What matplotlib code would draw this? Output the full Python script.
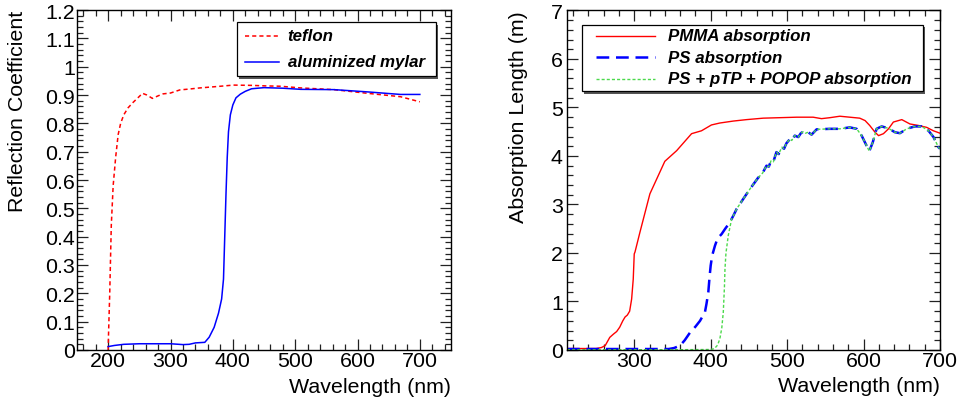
import matplotlib
matplotlib.use("Agg")
import matplotlib.pyplot as plt
from matplotlib.ticker import MultipleLocator, FuncFormatter
from matplotlib.patches import Rectangle
from matplotlib.lines import Line2D

plt.rcParams['font.family'] = ['Liberation Sans', 'DejaVu Sans']

# ---------------- data: left panel (reflection) ----------------
teflon_nm = [200, 200.5, 202.5, 205, 208, 212, 216, 220, 225, 232, 240, 250, 255, 262,
             271, 280, 288, 300, 315, 330, 347, 375, 401, 430, 455, 476, 509, 562,
             616, 669, 700]
teflon_r = [0.0, 0.05, 0.2, 0.44, 0.58, 0.68, 0.76, 0.80, 0.83, 0.855, 0.874, 0.895,
            0.906, 0.900, 0.888, 0.897, 0.904, 0.907, 0.918, 0.921, 0.925, 0.930, 0.935,
            0.934, 0.932, 0.931, 0.925, 0.919, 0.906, 0.894, 0.876]

mylar_nm = [200, 210, 225, 250, 300, 320, 330, 340, 355, 362, 370, 377, 382, 385, 387,
            389, 391, 393, 396, 400, 405, 412, 420, 430, 450, 480, 509, 562, 616, 669, 700]
mylar_r = [0.012, 0.016, 0.020, 0.022, 0.022, 0.019, 0.020, 0.025, 0.027, 0.045, 0.08,
           0.13, 0.18, 0.25, 0.40, 0.55, 0.68, 0.77, 0.83, 0.865, 0.89, 0.903, 0.913,
           0.922, 0.926, 0.924, 0.920, 0.919, 0.911, 0.902, 0.902]

# ---------------- data: right panel (absorption length) ----------------
pmma_nm = [212, 250, 257, 262, 268, 273, 277, 281, 285, 288, 291, 294, 296.6, 298.7,
           300, 301, 307.5, 320.5, 340, 355.5, 375, 388, 401, 412, 429.5, 447, 468.8,
           512.5, 534, 545, 556, 569, 582, 595, 602, 608, 615, 619.6, 626, 632.6, 639,
           650, 660.7, 671.7, 682.6, 691.3, 700]
pmma_len = [0.03, 0.03, 0.05, 0.09, 0.26, 0.33, 0.38, 0.47, 0.60, 0.68, 0.72, 0.80,
            1.05, 1.46, 1.98, 2.02, 2.43, 3.22, 3.89, 4.11, 4.46, 4.52, 4.64, 4.68, 4.72,
            4.75, 4.78, 4.80, 4.80, 4.77, 4.79, 4.82, 4.80, 4.78, 4.73, 4.63, 4.49, 4.42,
            4.46, 4.56, 4.70, 4.75, 4.66, 4.63, 4.59, 4.52, 4.47]

ps_nm = [212, 300, 345, 352, 360, 366, 373, 380, 386, 392.5, 394.5, 396.9, 398.5, 400,
         402, 405.6, 409, 414.3, 419, 425, 430, 434, 442, 451.4, 462, 468, 473, 476, 479,
         482, 486, 489, 493, 496, 499, 503.7, 506, 510, 514.6, 518, 521, 524, 527.6, 532,
         538.6, 556, 569, 582, 591, 597.5, 604, 607.5, 612, 617, 623.7, 632.6, 641,
         647.6, 656.4, 667, 676, 685, 691.5, 698, 700]
ps_len = [0.02, 0.02, 0.02, 0.04, 0.09, 0.20, 0.36, 0.48, 0.60, 0.78, 0.95, 1.19, 1.50,
          1.74, 1.95, 2.15, 2.30, 2.39, 2.50, 2.63, 2.78, 2.91, 3.10, 3.32, 3.55, 3.65,
          3.80, 3.78, 3.90, 3.88, 4.08, 4.04, 4.18, 4.15, 4.26, 4.35, 4.32, 4.42, 4.39,
          4.47, 4.50, 4.47, 4.49, 4.44, 4.55, 4.56, 4.56, 4.59, 4.56, 4.42, 4.21, 4.10,
          4.28, 4.56, 4.61, 4.57, 4.49, 4.47, 4.56, 4.61, 4.61, 4.52, 4.39, 4.18, 4.15]

pop_nm = [212, 350, 400, 405, 409, 412, 414.5, 416.5, 418, 418.7, 420, 423, 427.4, 430,
          434, 442, 451.4, 462, 468, 473, 476, 479, 482, 486, 489, 493, 496, 499, 503.7,
          506, 510, 514.6, 518, 521, 524, 527.6, 532, 538.6, 556, 569, 582, 591, 597.5,
          604, 607.5, 612, 617, 623.7, 632.6, 641, 647.6, 656.4, 667, 676, 685, 691.5,
          698, 700]
pop_len = [0.005, 0.005, 0.01, 0.03, 0.10, 0.23, 0.45, 0.78, 1.30, 1.67, 2.00, 2.36,
           2.70, 2.78, 2.91, 3.10, 3.32, 3.55, 3.65, 3.80, 3.78, 3.90, 3.88, 4.08, 4.04,
           4.18, 4.15, 4.26, 4.35, 4.32, 4.42, 4.39, 4.47, 4.50, 4.47, 4.49, 4.44, 4.55,
           4.56, 4.56, 4.59, 4.56, 4.42, 4.21, 4.10, 4.28, 4.56, 4.61, 4.57, 4.49, 4.47,
           4.56, 4.61, 4.61, 4.52, 4.39, 4.18, 4.15]

left_labels = ["teflon", "aluminized mylar"]
right_labels = ["PMMA absorption", "PS absorption", "PS + pTP + POPOP absorption"]

# ---------------- figure ----------------
fig = plt.figure(figsize=(9.59, 4.02), dpi=100)
axL = fig.add_axes([0.0803, 0.1269, 0.3900, 0.8457])
axR = fig.add_axes([0.5912, 0.1269, 0.3890, 0.8445])

FS = 15.4
LFS = 12.2
RED = '#ff0000'
BLUE = '#0000ff'
GREEN = '#4cd94c'


def root_style(ax, ypad):
    for s in ax.spines.values():
        s.set_linewidth(1.0)
        s.set_color('black')
    ax.tick_params(which='both', direction='in', top=True, right=True,
                   labelsize=FS, width=0.9, color='#222222')
    ax.tick_params(which='major', length=8)
    ax.tick_params(which='minor', length=4.3)
    ax.tick_params(axis='x', which='both', pad=1.0)
    ax.tick_params(axis='y', which='both', pad=ypad)


fmt = FuncFormatter(lambda v, p: f"{round(v, 3):g}")

# ---- left panel ----
lt, = axL.plot(teflon_nm, teflon_r, color=RED, lw=1.1, dashes=(2.7, 2.0))
lm, = axL.plot(mylar_nm, mylar_r, color=BLUE, lw=1.1)
axL.set_xlim(150, 750)
axL.set_ylim(0, 1.2)
axL.xaxis.set_major_locator(MultipleLocator(100))
axL.xaxis.set_minor_locator(MultipleLocator(20))
axL.yaxis.set_major_locator(MultipleLocator(0.1))
axL.yaxis.set_minor_locator(MultipleLocator(0.02))
axL.yaxis.set_major_formatter(fmt)
root_style(axL, 1.5)
axL.set_xlabel("Wavelength (nm)", fontsize=FS, loc='right', va='center')
axL.xaxis.set_label_coords(1.0, -0.106)
axL.set_ylabel("Reflection Coefficient", fontsize=FS, loc='top', va='center')
axL.yaxis.set_label_coords(-0.158, 1.0)

# ---- right panel ----
rp, = axR.plot(pmma_nm, pmma_len, color=RED, lw=1.0)
rs, = axR.plot(ps_nm, ps_len, color=BLUE, lw=1.8, dashes=(5.1, 2.7))
rg, = axR.plot(pop_nm, pop_len, color=GREEN, lw=1.0, dashes=(2.2, 1.5))
axR.set_xlim(212, 700)
axR.set_ylim(0, 7)
axR.xaxis.set_major_locator(MultipleLocator(100))
axR.xaxis.set_minor_locator(MultipleLocator(20))
axR.yaxis.set_major_locator(MultipleLocator(1))
axR.yaxis.set_minor_locator(MultipleLocator(0.2))
axR.yaxis.set_major_formatter(fmt)
root_style(axR, 3.0)
axR.set_xlabel("Wavelength (nm)", fontsize=FS, loc='right', va='center')
axR.xaxis.set_label_coords(1.0, -0.106)
axR.set_ylabel("Absorption Length (m)", fontsize=FS, loc='top', va='center')
axR.yaxis.set_label_coords(-0.129, 1.0)


def root_legend(ax, box, xline, xtext, rows, handles, labels):
    x0, y0, x1, y1 = box
    # shadow
    ax.add_patch(Rectangle((x0 + 0.006, y0 - 0.008), x1 - x0, y1 - y0,
                           transform=ax.transAxes, facecolor='#555555',
                           edgecolor='none', zorder=9, clip_on=False))
    ax.add_patch(Rectangle((x0, y0), x1 - x0, y1 - y0, transform=ax.transAxes,
                           facecolor='white', edgecolor='black', lw=0.9,
                           zorder=10, clip_on=False))
    for h, lab, y in zip(handles, labels, rows):
        ln = Line2D(xline, [y, y], transform=ax.transAxes, color=h.get_color(),
                    lw=h.get_linewidth(), zorder=11)
        ln.set_dashes(h._unscaled_dash_pattern[1]) if h._unscaled_dash_pattern[1] else None
        ax.add_line(ln)
        ax.text(xtext, y, lab, transform=ax.transAxes, fontsize=LFS,
                fontweight='bold', fontstyle='italic', va='center', ha='left',
                zorder=12)


root_legend(axL, (0.428, 0.806, 0.960, 0.965), [0.449, 0.540], 0.563,
            [0.924, 0.848], [lt, lm], left_labels)
root_legend(axR, (0.040, 0.763, 0.954, 0.958), [0.077, 0.236], 0.271,
            [0.926, 0.863, 0.799], [rp, rs, rg], right_labels)

fig.savefig("out.png", dpi=100)
